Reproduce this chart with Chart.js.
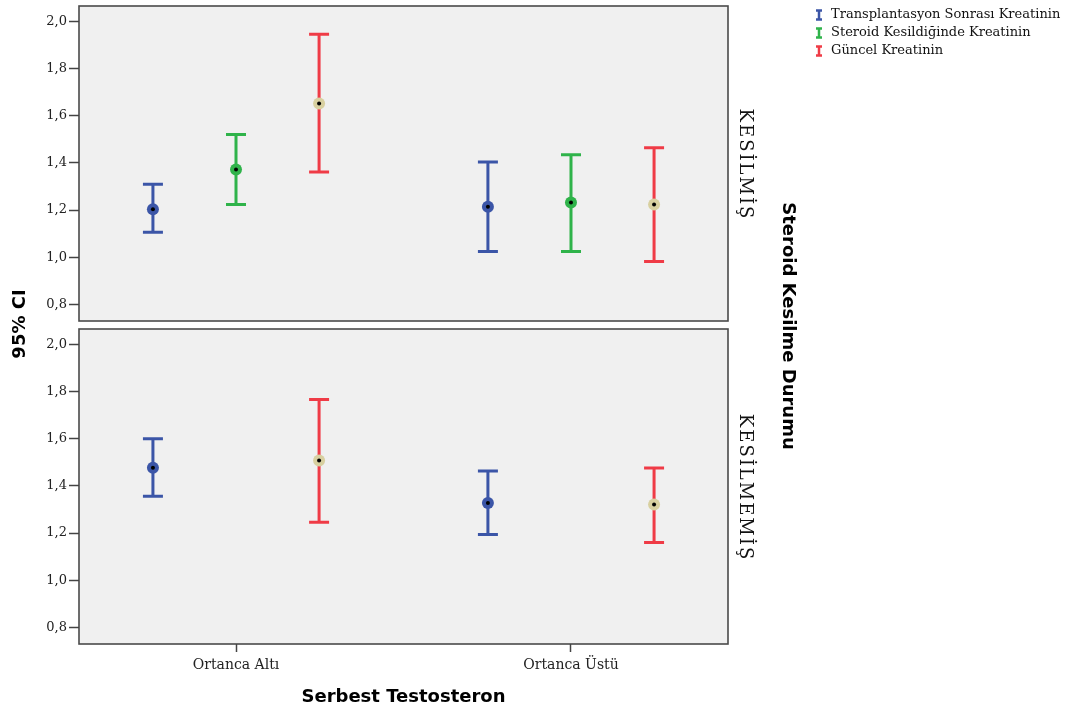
<!DOCTYPE html>
<html>
<head>
<meta charset="utf-8">
<script src="https://cdn.jsdelivr.net/npm/chart.js@4.4.1/dist/chart.umd.min.js"></script>
<style>
  html, body { margin: 0; padding: 0; background: #fff; }
  #wrap { position: relative; width: 1074px; height: 713px; }
  #wrap canvas { position: absolute; left: 0; top: 0; }
</style>
</head>
<body>
<div id="wrap">
  <canvas id="panelTop" width="1074" height="713"></canvas>
  <canvas id="panelBottom" width="1074" height="713"></canvas>
</div>
<script>
const categories = ['Ortanca Altı', 'Ortanca Üstü'];
const seriesNames = ['Transplantasyon Sonrası Kreatinin', 'Steroid Kesildiğinde Kreatinin', 'Güncel Kreatinin'];
const panelNames = ['KESİLMİŞ', 'KESİLMEMİŞ'];
const yTicks = [0.8, 1.0, 1.2, 1.4, 1.6, 1.8, 2.0];

// KESİLMİŞ: ortalama ve %95 GA sınırları [seri][kategori]
const kesilmisMean  = [[1.204, 1.214], [1.372, 1.232], [1.652, 1.224]];
const kesilmisLower = [[1.106, 1.025], [1.224, 1.025], [1.362, 0.982]];
const kesilmisUpper = [[1.310, 1.404], [1.520, 1.435], [1.945, 1.464]];

// KESİLMEMİŞ: ikinci seride veri yok
const kesilmemisMean  = [[1.477, 1.328], [null, null], [1.508, 1.321]];
const kesilmemisLower = [[1.356, 1.194], [null, null], [1.246, 1.160]];
const kesilmemisUpper = [[1.600, 1.463], [null, null], [1.766, 1.476]];

const lineColors = ['#3b55a7', '#2fb34a', '#ef3b46'];
const markerColors = ['#3b55a7', '#2fb34a', '#d8d0a0'];
const seriesOffset = [-0.248, 0, 0.248];

const SERIF = '"DejaVu Serif", serif';
const SANS_BOLD = 'bold 18px "DejaVu Sans", sans-serif';

function buildDatasets(mean, lower, upper) {
  return seriesNames.map((name, s) => ({
    label: name,
    data: categories
      .map((c, i) => mean[s][i] == null ? null : {
        x: i + seriesOffset[s], y: mean[s][i], lo: lower[s][i], hi: upper[s][i]
      })
      .filter(Boolean),
    pointRadius: 6,
    pointHoverRadius: 6,
    pointBorderWidth: 0,
    pointBackgroundColor: markerColors[s],
    borderColor: lineColors[s],
    showLine: false,
  }));
}

// panel zemini ve çerçeve
const panelFrame = {
  id: 'panelFrame',
  beforeDraw(chart) {
    const { ctx, chartArea: a } = chart;
    ctx.save();
    ctx.fillStyle = '#f0f0f0';
    ctx.fillRect(a.left, a.top, a.right - a.left, a.bottom - a.top);
    ctx.strokeStyle = '#4a4a4a';
    ctx.lineWidth = 1.6;
    ctx.strokeRect(a.left, a.top, a.right - a.left, a.bottom - a.top);
    ctx.restore();
  },
};

// güven aralığı çubukları + ortadaki siyah nokta
const errorBars = {
  id: 'errorBars',
  beforeDatasetsDraw(chart) {
    const { ctx, scales: { x, y } } = chart;
    ctx.save();
    ctx.lineWidth = 3;
    chart.data.datasets.forEach((ds) => {
      ctx.strokeStyle = ds.borderColor;
      ds.data.forEach((p) => {
        const px = x.getPixelForValue(p.x);
        const top = y.getPixelForValue(p.hi);
        const bot = y.getPixelForValue(p.lo);
        ctx.beginPath();
        ctx.moveTo(px, top); ctx.lineTo(px, bot);
        ctx.moveTo(px - 10, top); ctx.lineTo(px + 10, top);
        ctx.moveTo(px - 10, bot); ctx.lineTo(px + 10, bot);
        ctx.stroke();
      });
    });
    ctx.restore();
  },
  afterDatasetsDraw(chart) {
    const { ctx, scales: { x, y } } = chart;
    ctx.save();
    ctx.fillStyle = '#000';
    chart.data.datasets.forEach((ds) => {
      ds.data.forEach((p) => {
        ctx.beginPath();
        ctx.arc(x.getPixelForValue(p.x), y.getPixelForValue(p.y), 2, 0, Math.PI * 2);
        ctx.fill();
      });
    });
    ctx.restore();
  },
};

// sağdaki panel etiketi
function panelLabel(text) {
  return {
    id: 'panelLabel',
    afterDraw(chart) {
      const { ctx, chartArea: a } = chart;
      ctx.save();
      ctx.translate(745, (a.top + a.bottom) / 2);
      ctx.rotate(Math.PI / 2);
      ctx.font = '18px ' + SERIF;
      ctx.letterSpacing = '2px';
      ctx.fillStyle = '#111';
      ctx.textAlign = 'center';
      ctx.textBaseline = 'middle';
      ctx.fillText(text, 1, 0);
      ctx.restore();
    },
  };
}

// lejant (sağ üst)
const legendBox = {
  id: 'legendBox',
  afterDraw(chart) {
    const { ctx } = chart;
    ctx.save();
    ctx.font = '13px ' + SERIF;
    ctx.textBaseline = 'middle';
    chart.data.datasets.forEach((ds, i) => {
      const cy = 15 + i * 18;
      ctx.strokeStyle = ds.borderColor;
      ctx.lineWidth = 2.5;
      ctx.beginPath();
      ctx.moveTo(819, cy - 4.5); ctx.lineTo(819, cy + 4.5);
      ctx.moveTo(816, cy - 4.5); ctx.lineTo(822, cy - 4.5);
      ctx.moveTo(816, cy + 4.5); ctx.lineTo(822, cy + 4.5);
      ctx.stroke();
      ctx.fillStyle = '#111';
      ctx.fillText(ds.label, 831, cy);
    });
    ctx.restore();
  },
};

// ortak eksen başlıkları
const sharedTitles = {
  id: 'sharedTitles',
  afterDraw(chart) {
    const { ctx } = chart;
    ctx.save();
    ctx.font = SANS_BOLD;
    ctx.fillStyle = '#000';
    ctx.textAlign = 'center';
    ctx.textBaseline = 'middle';
    ctx.translate(20, 324);
    ctx.rotate(-Math.PI / 2);
    ctx.fillText('95% CI', 0, 0);
    ctx.restore();

    ctx.save();
    ctx.font = SANS_BOLD;
    ctx.fillStyle = '#000';
    ctx.textAlign = 'center';
    ctx.textBaseline = 'middle';
    ctx.translate(788, 326);
    ctx.rotate(Math.PI / 2);
    ctx.fillText('Steroid Kesilme Durumu', 0, 0);
    ctx.restore();
  },
};

function yScale() {
  return {
    type: 'linear',
    min: 0.73,
    max: 2.065,
    afterBuildTicks: (scale) => { scale.ticks = yTicks.map((v) => ({ value: v })); },
    afterFit: (scale) => {
      scale.width = 79;
      scale.paddingTop = 0;
      scale.paddingBottom = 0;
    },
    ticks: {
      callback: (v) => v.toFixed(1).replace('.', ','),
      font: { family: SERIF, size: 13 },
      color: '#222',
      padding: 2,
    },
    grid: { drawOnChartArea: false, drawTicks: true, tickLength: 10, tickColor: '#444', tickWidth: 1.5 },
    border: { display: false },
  };
}

function xScale(show) {
  return {
    type: 'linear',
    display: show,
    min: -0.4687,
    max: 1.4687,
    afterBuildTicks: (scale) => { scale.ticks = categories.map((c, i) => ({ value: i })); },
    afterFit: (scale) => { if (show) scale.height = 69; },
    ticks: {
      callback: (v) => categories[v],
      font: { family: SERIF, size: 14 },
      color: '#222',
      padding: 5,
      maxRotation: 0,
    },
    grid: { drawOnChartArea: false, drawTicks: true, tickLength: 8, tickColor: '#444', tickWidth: 1.5 },
    border: { display: false },
    title: {
      display: show,
      text: 'Serbest Testosteron',
      font: { family: '"DejaVu Sans", sans-serif', size: 18, weight: 'bold' },
      color: '#000',
      padding: { top: 0, bottom: 5 },
    },
  };
}

function makeChart(el, datasets, padding, showX, extraPlugins) {
  return new Chart(document.getElementById(el), {
    type: 'scatter',
    data: { datasets },
    options: {
      responsive: false,
      animation: false,
      events: [],
      layout: { padding },
      scales: { x: xScale(showX), y: yScale() },
      plugins: { legend: { display: false }, tooltip: { enabled: false } },
    },
    plugins: [panelFrame, errorBars].concat(extraPlugins),
  });
}

makeChart('panelTop',
  buildDatasets(kesilmisMean, kesilmisLower, kesilmisUpper),
  { top: 5, bottom: 392, left: 0, right: 346 },
  false,
  [panelLabel(panelNames[0]), legendBox]);

makeChart('panelBottom',
  buildDatasets(kesilmemisMean, kesilmemisLower, kesilmemisUpper),
  { top: 329, bottom: 0, left: 0, right: 346 },
  true,
  [panelLabel(panelNames[1]), sharedTitles]);
</script>
</body>
</html>
